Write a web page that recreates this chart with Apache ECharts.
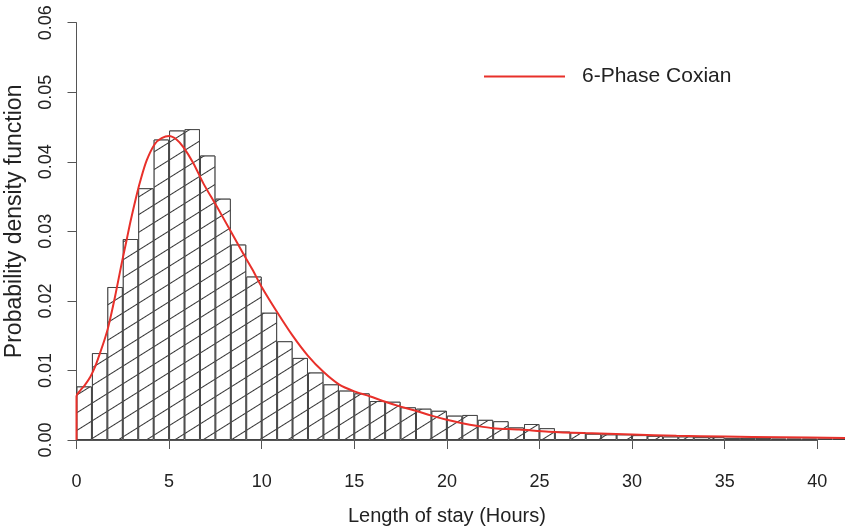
<!DOCTYPE html>
<html>
<head>
<meta charset="utf-8">
<script src="https://cdn.jsdelivr.net/npm/echarts@6/dist/echarts.min.js"></script>
<style>
  html, body { margin: 0; padding: 0; background: #fff; }
  #map_div { width: 845px; height: 528px; }
</style>
</head>
<body>
<div id="map_div"></div>
<script>
    // histogram bins: width 50 min (5/6 hour), densities
    var binWidth = 5 / 6;
    var binHeights = [
        0.0077, 0.0125, 0.0220, 0.0289, 0.0362, 0.0432, 0.0445, 0.0447, 0.0409, 0.0347,
        0.0281, 0.0235, 0.0183, 0.0142, 0.0118, 0.0097, 0.0080, 0.0071, 0.0067, 0.0056,
        0.0055, 0.0047, 0.0045, 0.0042, 0.0035, 0.0036, 0.0029, 0.0027, 0.0018, 0.0023,
        0.0017, 0.0012, 0.0011, 0.0009, 0.0008, 0.0008, 0.0007, 0.0006, 0.0005, 0.0005,
        0.0004, 0.0004, 0.0003, 0.0003, 0.0003, 0.0002, 0.0002, 0.0002, 0.0002, 0.0002
    ];

    // fitted 6-phase Coxian density [hours, pdf]
    var coxianCurve = [
        [0, 0], [0, 0.0063], [0.2, 0.0071], [0.45, 0.0079], [0.75, 0.0091], [1.0, 0.0105],
        [1.27, 0.0125], [1.5, 0.0143], [1.72, 0.0163], [2.08, 0.0206], [2.44, 0.0254],
        [2.71, 0.0288], [2.93, 0.0316], [3.2, 0.0347], [3.43, 0.0371], [3.79, 0.0402],
        [4.24, 0.0426], [4.6, 0.0434], [5.0, 0.0437], [5.4, 0.0432], [5.77, 0.0421],
        [6.31, 0.0398], [6.85, 0.0369], [7.57, 0.0336], [8.29, 0.0302], [9.0, 0.0268],
        [9.5, 0.0245], [10.0, 0.0220], [10.83, 0.0184], [11.67, 0.0150], [12.5, 0.0121],
        [13.33, 0.0098], [14.17, 0.0080], [15.0, 0.0070], [15.83, 0.0063], [16.67, 0.0055],
        [17.5, 0.0048], [18.33, 0.0042], [19.17, 0.0035], [20.0, 0.0029], [20.83, 0.0024],
        [21.67, 0.0020], [22.5, 0.0017], [23.9, 0.0015], [25.5, 0.0012], [27.4, 0.0010],
        [30, 0.0008], [32.4, 0.0006], [35, 0.0005], [38, 0.0004], [41.5, 0.0003]
    ];

    var xTicks = [0, 5, 10, 15, 20, 25, 30, 35, 40];
    var yTicks = [0, 0.01, 0.02, 0.03, 0.04, 0.05, 0.06];

    var histData = [];
    for (var i = 0; i < binHeights.length; i++) {
        histData.push([(i + 0.5) * binWidth, binHeights[i]]);
    }

    var font = 'Liberation Sans, Arial, Helvetica, sans-serif';
    var axisGray = '#555';
    var textColor = '#222';

    var option = {
        animation: false,
        backgroundColor: '#fff',
        legend: {
            data: ['6-Phase Coxian'],
            left: 484,
            top: 66,
            padding: 0,
            icon: 'rect',
            itemWidth: 81,
            itemHeight: 2,
            textStyle: { fontFamily: font, fontSize: 21, color: textColor, padding: [0, 0, 0, 12] }
        },
        grid: [
            { left: 76.5, right: 0, top: 22.7, bottom: 88, containLabel: false, outerBoundsMode: 'none' },
            { left: 76.5, width: 740.8, top: 22.7, bottom: 88, containLabel: false, outerBoundsMode: 'none' }
        ],
        xAxis: [
            {
                type: 'value', gridIndex: 0, min: 0, max: 41.5,
                show: false
            },
            {
                type: 'value', gridIndex: 1, min: 0, max: xTicks[xTicks.length - 1], interval: 5,
                offset: 18,
                axisLine: { show: true, lineStyle: { color: axisGray, width: 1 } },
                axisTick: { show: true, length: 9, lineStyle: { color: axisGray } },
                splitLine: { show: false },
                axisLabel: { margin: 15, fontFamily: font, fontSize: 18, color: textColor },
                name: 'Length of stay (Hours)',
                nameLocation: 'middle',
                nameGap: 48,
                nameTextStyle: { fontFamily: font, fontSize: 20, color: textColor }
            }
        ],
        yAxis: [
            {
                type: 'value', gridIndex: 0, min: 0, max: yTicks[yTicks.length - 1], interval: 0.01,
                axisLine: { show: true, lineStyle: { color: axisGray, width: 1 } },
                axisTick: { show: true, length: 9, lineStyle: { color: axisGray } },
                splitLine: { show: false },
                axisLabel: {
                    rotate: 90, margin: 21, fontFamily: font, fontSize: 18, color: textColor,
                    formatter: function (v) { return v.toFixed(2); }
                },
                name: 'Probability density function',
                nameLocation: 'middle',
                nameGap: 50,
                nameTextStyle: { fontFamily: font, fontSize: 23, color: textColor, padding: [0, 0, 0, 20] }
            },
            { type: 'value', gridIndex: 1, min: 0, max: 0.06, show: false }
        ],
        series: [
            {
                name: 'hist',
                type: 'bar',
                xAxisIndex: 0,
                yAxisIndex: 0,
                barWidth: '100%',
                clip: true,
                silent: true,
                itemStyle: {
                    color: '#fff',
                    borderColor: '#444',
                    borderWidth: 1,
                    decal: {
                        symbol: 'rect',
                        symbolSize: 1,
                        color: '#333',
                        backgroundColor: '#fff',
                        dashArrayX: [1, 0],
                        dashArrayY: [0.9, 13.7],
                        rotation: -0.56
                    }
                },
                data: histData
            },
            {
                name: '6-Phase Coxian',
                type: 'line',
                xAxisIndex: 0,
                yAxisIndex: 0,
                showSymbol: false,
                smooth: 0.3,
                clip: true,
                lineStyle: { color: '#e8302a', width: 2 },
                itemStyle: { color: '#e8302a' },
                data: coxianCurve
            }
        ]
    };

    var myChart = echarts.init(document.getElementById('map_div'));
    myChart.setOption(option);
</script>
</body>
</html>
